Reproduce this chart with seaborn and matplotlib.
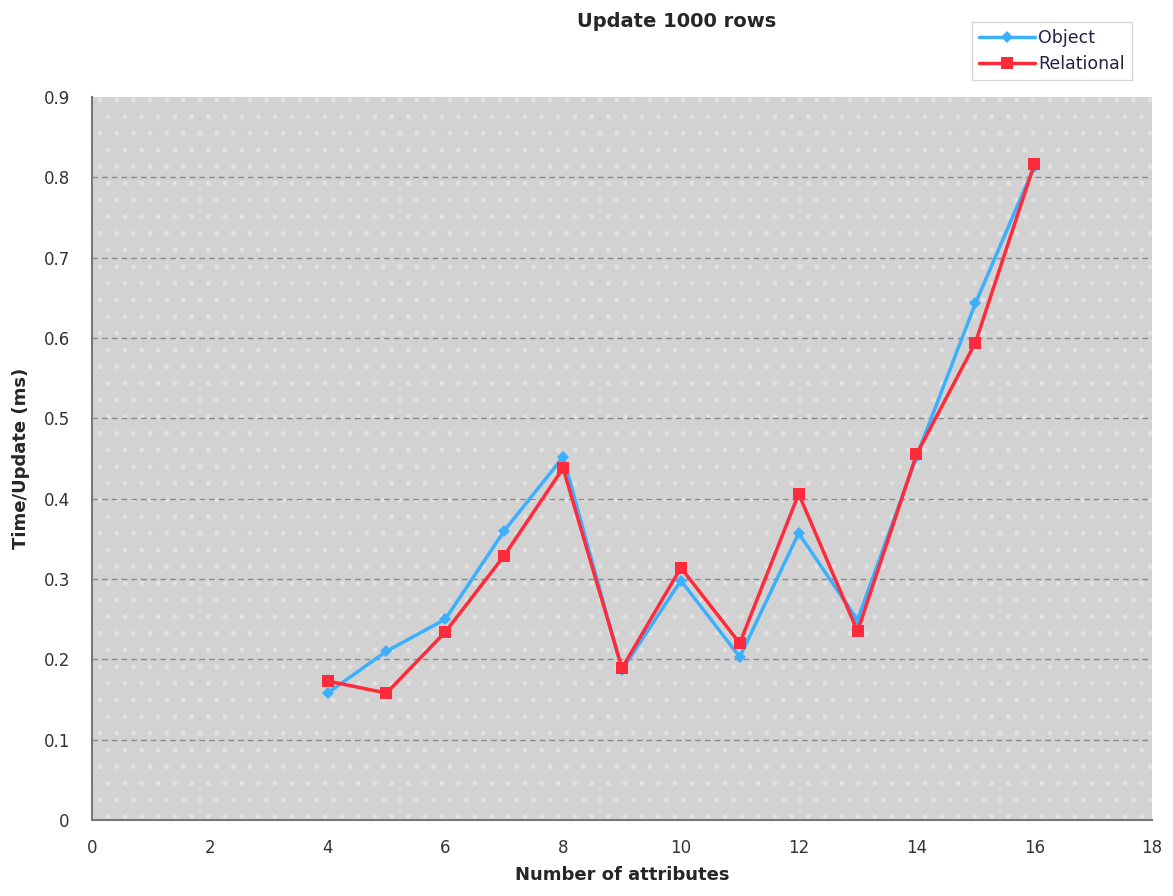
import matplotlib
matplotlib.use("Agg")
import matplotlib.pyplot as plt
import seaborn as sns
import pandas as pd
from matplotlib.patches import Rectangle

attributes = [4, 5, 6, 7, 8, 9, 10, 11, 12, 13, 14, 15, 16]
object_ms = [0.158, 0.210, 0.250, 0.360, 0.452, 0.187, 0.298, 0.203, 0.357, 0.249, 0.452, 0.643, 0.813]
relational_ms = [0.173, 0.158, 0.234, 0.329, 0.438, 0.189, 0.314, 0.220, 0.406, 0.235, 0.455, 0.594, 0.816]

df = pd.concat([
    pd.DataFrame({"attrs": attributes, "time": object_ms, "series": "Object"}),
    pd.DataFrame({"attrs": attributes, "time": relational_ms, "series": "Relational"}),
])

sns.set_style("white")
plt.rcParams["font.family"] = ["DejaVu Sans"]
plt.rcParams["hatch.linewidth"] = 1.0

fig = plt.figure(figsize=(11.73, 8.96), dpi=100)
ax = fig.add_axes([92 / 1173, 1 - 820 / 896, (1152 - 92) / 1173, (820 - 97) / 896])

ax.set_facecolor("#d2d2d2")
ax.add_patch(Rectangle((0, 0), 1, 1, transform=ax.transAxes, facecolor="none",
                       edgecolor="#e2e2e2", hatch=".", linewidth=0, zorder=0))

palette = {"Object": "#3bb0ff", "Relational": "#ff2a3a"}
markers = {"Object": "D", "Relational": "s"}
sizes = {"Object": 6.5, "Relational": 8.5}
for name in ["Object", "Relational"]:
    sub = df[df["series"] == name]
    sns.lineplot(data=sub, x="attrs", y="time", ax=ax, color=palette[name],
                 marker=markers[name], markersize=sizes[name], markeredgewidth=0,
                 linewidth=2.5, label=name, zorder=3)

ax.set_xlim(0, 18)
ax.set_ylim(0, 0.9)
ax.set_xticks(range(0, 19, 2))
ax.set_yticks([0, 0.1, 0.2, 0.3, 0.4, 0.5, 0.6, 0.7, 0.8, 0.9])
ax.set_yticklabels(["0", "0.1", "0.2", "0.3", "0.4", "0.5", "0.6", "0.7", "0.8", "0.9"])
ax.tick_params(axis="both", labelsize=12, colors="#333333", length=4, direction="out")
ax.tick_params(axis="y", pad=12)
ax.tick_params(axis="x", pad=10)

for yv in [0.1, 0.2, 0.3, 0.4, 0.5, 0.6, 0.7, 0.8]:
    ax.axhline(yv, color="#8a8a8a", linestyle=(0, (4, 3)), linewidth=1.0, zorder=1)

for side in ["top", "right"]:
    ax.spines[side].set_visible(False)
for side in ["left", "bottom"]:
    ax.spines[side].set_color("#777777")
    ax.spines[side].set_linewidth(1.5)

ax.set_xlabel("Number of attributes", fontsize=13, fontweight="bold", labelpad=6)
ax.set_ylabel("Time/Update (ms)", fontsize=13, fontweight="bold", labelpad=10)
fig.text(0.577, 0.976, "Update 1000 rows", ha="center", va="center",
         fontsize=14, fontweight="bold")

leg = ax.legend(loc="upper right", bbox_to_anchor=(1132 / 1173, 1 - 22 / 896),
                bbox_transform=fig.transFigure, frameon=True, fontsize=12.5,
                fancybox=False, borderaxespad=0, handlelength=3.2,
                labelspacing=0.45, borderpad=0.4, handletextpad=0.2)
leg.get_frame().set_edgecolor("#cccccc")
leg.get_frame().set_linewidth(1.0)
for t in leg.get_texts():
    t.set_color("#222244")

fig.savefig("out.png", dpi=100, facecolor="white")
